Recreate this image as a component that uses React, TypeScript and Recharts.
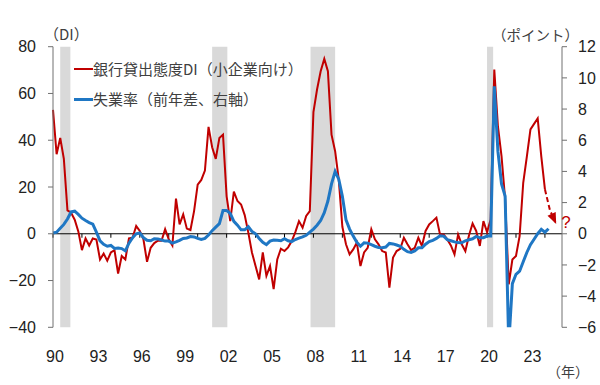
import React from 'react';
import { LineChart, Line, XAxis, YAxis, ReferenceArea, ReferenceLine, Legend } from 'recharts';

// ---------- data ----------
const FIRST_YEAR = 1990; // quarterly series, first point 1990Q1

const lendingDI: number[] = [
  53, 34, 41, 32, 10, 9, 6, 1, -7, -2,
  -5, -2, -2.5, -11, -8.5, -11.5, -8, -7, -17, -9.5,
  -11, -2, -1.7, 3.3, 1.2, -2.4, -12, -6, -4, -3,
  -3, 2, -2.4, -5, 15, 4, 8.3, 2.2, 1.6, 9.7,
  21, 23, 27, 45.7, 37, 32, 41, 42.4, 16, 5.4,
  18, 14, 12.5, 8, 0.5, -8, -13.8, -19.5, -8, -18,
  -13.8, -23.7, -11, -6.4, -7.4, -5.8, -3.1, 0.7, 5.4, 2.6,
  7.6, 9.7, 52, 61.7, 69.5, 74.8, 69.5, 42.4, 35.3, 23.2,
  3, -4.5, -8.8, -6.7, -3.8, -13.8, -8, -6, 1.9, -2.4,
  -4.5, -7.4, -8, -23, -10.2, -7.4, -6.4, -1.7, -4.5, -7,
  -6, -1.7, -5.2, 1.2, 4, 5.4, 6.9, -0.3, -0.3, -2.4,
  -5, -8.8, -0.3, -4.5, -7.4, -0.7, 4.4, 1.2, -5.2, 5.4,
  0.7, 6.1, 70.2, 46, 33.2, 14.7, -21.6, -11, -9.5, -1,
  21.8, 33, 44.6, 47, 49.3, 33, 19,
];

const unemploymentChange: number[] = [
  0.05, 0.1, 0.35, 0.6, 0.95, 1.4, 1.45, 1.24, 1.0, 0.85,
  0.72, 0.62, 0.1, -0.45, -0.68, -0.8, -0.75, -0.94, -0.92, -0.95,
  -1.1, -0.6, -0.25, 0, 0.05, -0.25, -0.42, -0.45, -0.32, -0.33,
  -0.4, -0.47, -0.47, -0.6, -0.52, -0.42, -0.3, -0.27, -0.18, -0.2,
  -0.3, -0.37, -0.3, -0.08, 0.2, 0.43, 0.65, 1.5, 1.5, 1.3,
  0.8, 0.55, 0.25, 0.25, 0.45, 0.15, 0.0, -0.3, -0.55, -0.7,
  -0.47, -0.4, -0.42, -0.45, -0.32, -0.45, -0.5, -0.37, -0.28, -0.2,
  -0.1, 0.1, 0.3, 0.55, 0.85, 1.35, 2.1, 3.2, 4.0, 3.5,
  2.4, 0.9, 0.3, -0.15, -0.55, -0.8, -0.58, -0.6, -0.7, -0.8,
  -0.88, -0.9, -0.85, -0.62, -0.65, -0.72, -0.8, -1.0, -1.15, -1.2,
  -1.1, -0.9, -0.9, -0.67, -0.5, -0.42, -0.3, -0.13, -0.15, -0.38,
  -0.45, -0.52, -0.56, -0.58, -0.45, -0.38, -0.32, -0.17, -0.26, -0.25,
  -0.15, -0.15, 9.46, 5.3, 3.2, 2.41, -7.1, -3.2, -2.6, -2.4,
  -1.8, -1.2, -0.7, -0.35, 0.0, 0.28, 0.1, 0.32,
];

const forecastYears = [2024.0, 2024.35, 2024.72];
const forecastDI = [19, 10, 5];

const recessionStart = [1990.5, 2001.0, 2007.8, 2020.0];
const recessionEnd = [1991.2, 2002.05, 2009.5, 2020.42];

const xTickYears = [1990, 1993, 1996, 1999, 2002, 2005, 2008, 2011, 2014, 2017, 2020, 2023];
const zeroTickYears = [1990, 1992, 1994, 1996, 1998, 2000, 2002, 2004, 2006, 2008, 2010, 2012, 2014, 2016, 2018, 2020, 2022, 2024];
const leftTicks = [-40, -20, 0, 20, 40, 60, 80];
const rightTicks = [-6, -4, -2, 0, 2, 4, 6, 8, 10, 12];

const seriesNames = ['銀行貸出態度DI（小企業向け）', '失業率（前年差、右軸）'];
const leftAxisTitle = '（DI）';
const rightAxisTitle = '（ポイント）';
const xAxisTitle = '（年）';
const forecastMark = '?';

// ---------- styles ----------
const RED = '#C00000';
const BLUE = '#1F77C4';
const AXIS = '#707070';
const TEXT = '#222222';
const CJK = '"Noto Sans CJK JP", "Noto Sans", sans-serif';
const LATIN = '"Liberation Sans", Arial, sans-serif';

const diData = lendingDI.map((v, i) => ({ t: FIRST_YEAR + i / 4, v }));
const ueData = unemploymentChange.map((v, i) => ({ t: FIRST_YEAR + i / 4, v }));
const fcData = forecastYears.map((t, i) => ({ t, v: forecastDI[i] }));

const fmtMinus = (v: number) => (v < 0 ? '\u2212' + Math.abs(v) : String(v));

const ForecastDot = (props: any) => {
  const { cx, cy, index, points } = props;
  if (index !== forecastDI.length - 1 || cx == null || cy == null) {
    return <g key={`fd${index}`} />;
  }
  let ang = 1.1;
  if (points && points.length > 1) {
    const p = points[points.length - 2];
    ang = Math.atan2(cy - p.y, cx - p.x);
  }
  const L = 9;
  const W = 4.5;
  const ux = Math.cos(ang);
  const uy = Math.sin(ang);
  const bx = cx - ux * L;
  const by = cy - uy * L;
  const px = -uy;
  const py = ux;
  const pts = `${cx + ux * 2},${cy + uy * 2} ${bx + px * W},${by + py * W} ${bx - px * W},${by - py * W}`;
  return (
    <g key={`fd${index}`}>
      <polygon points={pts} fill={RED} />
      <text x={cx + 6} y={cy} dominantBaseline="central" fill={RED} fontSize={17} fontFamily={LATIN}>
        {forecastMark}
      </text>
    </g>
  );
};

const legendWidths = [2, 3];
const legendColors = [RED, BLUE];

const renderLegend = () => (
  <div style={{ fontFamily: CJK, fontSize: 15, color: '#404040', lineHeight: '30px', whiteSpace: 'nowrap' }}>
    {seriesNames.map((name, i) => (
      <div key={name} style={{ display: 'flex', alignItems: 'center', height: 30 }}>
        <span style={{ display: 'inline-block', width: 19, height: legendWidths[i], background: legendColors[i] }} />
        <span>{name}</span>
      </div>
    ))}
  </div>
);

export default function App() {
  return (
    <div style={{ position: 'absolute', left: 0, top: 0, width: 600, height: 385, background: '#fff' }}>
      <LineChart width={600} height={385} margin={{ top: 46.7, right: 0, bottom: 27.7, left: 0 }}>
        <XAxis
          type="number"
          dataKey="t"
          domain={[1990, 2025.18]}
          ticks={xTickYears}
          tickFormatter={(y: number) => String(Math.floor(y) % 100).padStart(2, '0')}
          axisLine={false}
          tickLine={false}
          tickSize={6}
          tickMargin={17}
          height={30}
          interval={0}
          tick={{ fill: TEXT, fontSize: 16, fontFamily: LATIN, dx: 2 }}
          allowDuplicatedCategory={false}
        />
        <YAxis
          yAxisId="left"
          orientation="left"
          domain={[-40, 80]}
          ticks={leftTicks}
          interval={0}
          width={53}
          tickSize={5}
          tickMargin={12}
          tickFormatter={fmtMinus}
          stroke={AXIS}
          axisLine={{ stroke: AXIS }}
          tickLine={{ stroke: AXIS }}
          tick={{ fill: TEXT, fontSize: 16, fontFamily: LATIN }}
        />
        <YAxis
          yAxisId="right"
          orientation="right"
          domain={[-6, 12]}
          ticks={rightTicks}
          interval={0}
          width={38}
          tickSize={5}
          tickMargin={11}
          allowDataOverflow
          tickFormatter={fmtMinus}
          stroke={AXIS}
          axisLine={{ stroke: AXIS }}
          tickLine={{ stroke: AXIS }}
          tick={{ fill: TEXT, fontSize: 16, fontFamily: LATIN, textAnchor: 'start' }}
        />
        {recessionStart.map((s, i) => (
          <ReferenceArea
            key={`rec${i}`}
            yAxisId="left"
            x1={s}
            x2={recessionEnd[i]}
            fill="#D9D9D9"
            fillOpacity={1}
            stroke="none"
          />
        ))}
        <ReferenceLine yAxisId="left" y={0} stroke="#000" strokeWidth={1} />
        {zeroTickYears.map((y) => (
          <ReferenceLine
            key={`zt${y}`}
            yAxisId="left"
            segment={[{ x: y, y: 0 }, { x: y, y: -1.7 }]}
            stroke="#000"
            strokeWidth={1}
          />
        ))}
        <Line
          yAxisId="left"
          data={diData}
          dataKey="v"
          name={seriesNames[0]}
          type="linear"
          stroke={RED}
          strokeWidth={2}
          dot={false}
          isAnimationActive={false}
        />
        <Line
          yAxisId="left"
          data={fcData}
          dataKey="v"
          name="forecast"
          legendType="none"
          type="linear"
          stroke={RED}
          strokeWidth={2}
          strokeDasharray="5 3"
          dot={ForecastDot}
          isAnimationActive={false}
        />
        <Line
          yAxisId="right"
          data={ueData}
          dataKey="v"
          name={seriesNames[1]}
          type="linear"
          stroke={BLUE}
          strokeWidth={3}
          dot={false}
          isAnimationActive={false}
        />
        <Legend
          layout="vertical"
          align="center"
          verticalAlign="middle"
          content={renderLegend}
          wrapperStyle={{ left: 74, top: 54, width: 'auto', height: 'auto' }}
        />
      </LineChart>
      <svg width={600} height={385} style={{ position: 'absolute', left: 0, top: 0, pointerEvents: 'none' }}>
        <text x={44} y={33} dominantBaseline="central" fontSize={15} fontFamily={CJK} fill="#404040">{leftAxisTitle}</text>
        <text x={492} y={34} dominantBaseline="central" fontSize={14.5} fontFamily={CJK} fill="#404040">{rightAxisTitle}</text>
        <text x={547} y={371} dominantBaseline="central" fontSize={14} fontFamily={CJK} fill="#404040">{xAxisTitle}</text>
      </svg>
    </div>
  );
}
